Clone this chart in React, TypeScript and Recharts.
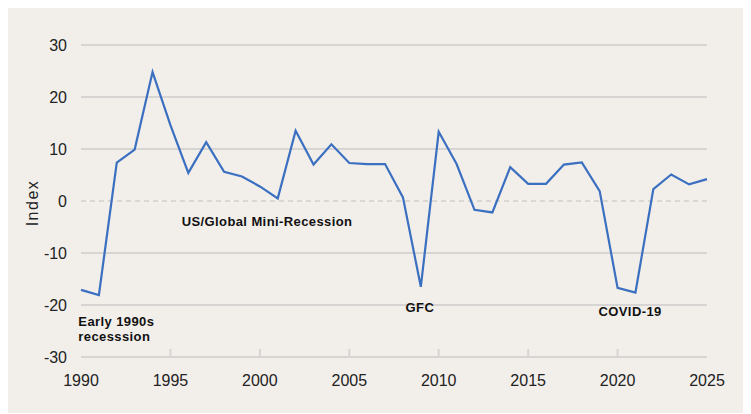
import { LineChart, Line, XAxis, YAxis, ReferenceLine, ReferenceDot } from "recharts";

// years on the x axis
const YEARS = [
  1990, 1991, 1992, 1993, 1994, 1995, 1996, 1997, 1998, 1999,
  2000, 2001, 2002, 2003, 2004, 2005, 2006, 2007, 2008, 2009,
  2010, 2011, 2012, 2013, 2014, 2015, 2016, 2017, 2018, 2019,
  2020, 2021, 2022, 2023, 2024, 2025,
];

// index values
const INDEX = [
  -17.1, -18.1, 7.4, 9.9, 24.8, 14.6, 5.4, 11.3, 5.6, 4.7,
  2.8, 0.5, 13.5, 7.0, 10.9, 7.3, 7.1, 7.1, 0.7, -16.5,
  13.3, 7.1, -1.7, -2.2, 6.5, 3.3, 3.3, 7.0, 7.4, 1.9,
  -16.7, -17.6, 2.3, 5.1, 3.2, 4.2,
];

const X_TICKS = [1990, 1995, 2000, 2005, 2010, 2015, 2020, 2025];
const Y_TICKS = [-30, -20, -10, 0, 10, 20, 30];
const GRID_LINES = [30, 20, 10, -10, -20, -30];

const NOTES = [
  { lines: ["US/Global Mini-Recession"], year: 2000.4, value: -3.8, anchor: "middle" },
  { lines: ["Early 1990s", "recesssion"], year: 1989.85, value: -23.0, anchor: "start" },
  { lines: ["GFC"], year: 2008.95, value: -20.4, anchor: "middle" },
  { lines: ["COVID-19"], year: 2020.7, value: -21.2, anchor: "middle" },
];

const data = YEARS.map((year, i) => ({ year, index: INDEX[i] }));

const FONT = "'Liberation Sans', Arial, sans-serif";
const GRID = "#d7d5d3";

const XTick = (props: any) => {
  const { x, y, payload } = props;
  const v = payload.value;
  const edge = v === 1990 || v === 2025;
  return (
    <g>
      {!edge && <line x1={x} x2={x} y1={y} y2={y - 8} stroke={GRID} strokeWidth={2} />}
      <text x={x} y={y + 29} textAnchor="middle" fontSize={16} fill="#222" fontFamily={FONT}>
        {v}
      </text>
    </g>
  );
};

const IndexLabel = (props: any) => {
  const vb = props.viewBox || {};
  const cx = 24;
  const cy = (vb.y ?? 37) + (vb.height ?? 312) / 2 + 2;
  return (
    <text
      x={cx}
      y={cy}
      transform={`rotate(-90 ${cx} ${cy})`}
      textAnchor="middle"
      dominantBaseline="central"
      fontSize={16}
      letterSpacing={1.5}
      fill="#222"
      fontFamily={FONT}
    >
      Index
    </text>
  );
};

const noteLabel = (n: any) => (props: any) => {
  const vb = props.viewBox || {};
  const x = vb.x ?? props.x;
  const y = vb.y ?? props.y;
  return (
    <text
      x={x}
      y={y}
      textAnchor={n.anchor}
      dominantBaseline="central"
      fontSize={13}
      letterSpacing={0.4}
      fontWeight="bold"
      fill="#111"
      fontFamily={FONT}
    >
      {n.lines.map((line: string, i: number) => (
        <tspan key={line} x={x} dy={i === 0 ? 0 : 15}>
          {line}
        </tspan>
      ))}
    </text>
  );
};

export default function App() {
  return (
    <div style={{ width: 743, height: 405, background: "#f2efeb", fontFamily: FONT }}>
      <LineChart width={743} height={405} data={data} margin={{ top: 37, right: 44, bottom: 0, left: 0 }}>
        {GRID_LINES.map((v) => (
          <ReferenceLine key={v} y={v} stroke={GRID} strokeWidth={2} />
        ))}
        <ReferenceLine y={0} stroke="#d9d6d3" strokeWidth={2} strokeDasharray="5 4" />
        <XAxis
          dataKey="year"
          type="number"
          domain={[1990, 2025]}
          ticks={X_TICKS}
          axisLine={false}
          tickLine={false}
          tickSize={0}
          tickMargin={0}
          height={56}
          tick={<XTick />}
          interval={0}
        />
        <YAxis
          domain={[-30, 30]}
          ticks={Y_TICKS}
          axisLine={false}
          tickLine={false}
          tickSize={0}
          tickMargin={14}
          width={73}
          interval={0}
          tick={{ fontSize: 16, fill: "#222", fontFamily: FONT }}
          label={<IndexLabel />}
        />
        <Line
          dataKey="index"
          stroke="#3b6fc0"
          strokeWidth={2.2}
          dot={false}
          activeDot={false}
          isAnimationActive={false}
        />
        {NOTES.map((n) => (
          <ReferenceDot
            key={n.lines[0]}
            x={n.year}
            y={n.value}
            r={0}
            fill="none"
            stroke="none"
            ifOverflow="visible"
            label={noteLabel(n)}
          />
        ))}
      </LineChart>
    </div>
  );
}
